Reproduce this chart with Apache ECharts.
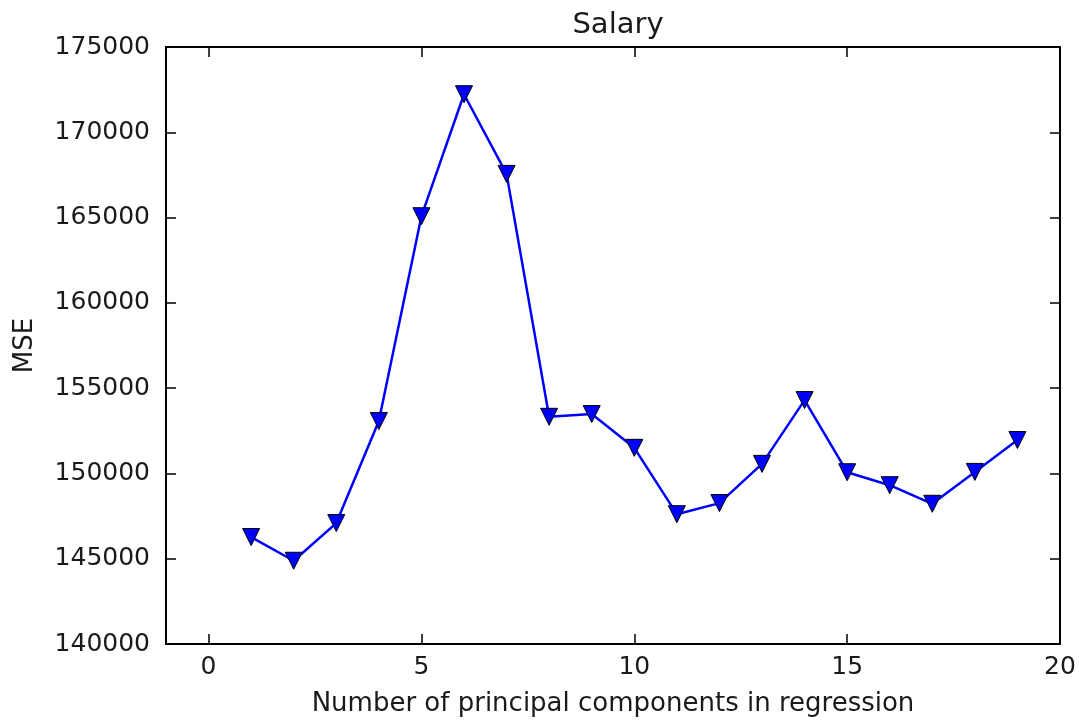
<!DOCTYPE html>
<html>
<head>
<meta charset="utf-8">
<script src="https://cdn.jsdelivr.net/npm/echarts@6/dist/echarts.min.js"></script>
<style>
html,body{margin:0;padding:0;background:#fff;}
#chart{width:1079px;height:723px;}
</style>
</head>
<body>
<div id="chart"></div>
<script>
var components = [1,2,3,4,5,6,7,8,9,10,11,12,13,14,15,16,17,18,19];
var mseValues = [146270,144880,147090,153070,165080,172230,167560,153320,153480,151500,147610,148260,150560,154300,150070,149310,148220,150090,151960];
var xTicks = [0,5,10,15,20];
var yMin = 140000, yMax = 175000, yStep = 5000;
var xMin = -1, xMax = 20;
var titleText = 'Salary';
var xName = 'Number of principal components in regression';
var yName = 'MSE';

var FONT = '"DejaVu Sans", sans-serif';
var TXT = '#1a1a1a';

var seriesData = components.map(function(c, i){ return [c, mseValues[i]]; });

var chart = echarts.init(document.getElementById('chart'), null, {renderer:'canvas'});
var axisLineStyle = {show:true, onZero:false, lineStyle:{color:'#000', width:2}};
var tickStyle = {show:true, inside:true, length:10, lineStyle:{color:'#000', width:1.5}};

chart.setOption({
  animation:false,
  backgroundColor:'#fff',
  title:{
    text:titleText, left:613, top:6, textAlign:'center',
    textStyle:{fontFamily:FONT, fontSize:29, fontWeight:'normal', color:TXT}
  },
  grid:{left:166, right:19, top:47, bottom:79, containLabel:false, outerBoundsMode:'none'},
  xAxis:[{
    type:'value', min:xMin, max:xMax, position:'bottom',
    name:xName, nameLocation:'middle', nameGap:47,
    nameTextStyle:{fontFamily:FONT, fontSize:26, color:TXT},
    axisLine:axisLineStyle,
    axisTick:Object.assign({customValues:xTicks}, tickStyle),
    axisLabel:{customValues:xTicks, fontFamily:FONT, fontSize:25, color:TXT, margin:11},
    splitLine:{show:false}
  },{
    type:'value', min:xMin, max:xMax, position:'top',
    axisLine:axisLineStyle,
    axisTick:Object.assign({customValues:xTicks}, tickStyle),
    axisLabel:{show:false, customValues:xTicks},
    splitLine:{show:false}
  }],
  yAxis:[{
    type:'value', min:yMin, max:yMax, interval:yStep, position:'left',
    name:yName, nameLocation:'middle', nameGap:128, nameRotate:90,
    nameTextStyle:{fontFamily:FONT, fontSize:26, color:TXT},
    axisLine:axisLineStyle,
    axisTick:tickStyle,
    axisLabel:{fontFamily:FONT, fontSize:25, color:TXT, margin:16, formatter:function(v){return String(v);}},
    splitLine:{show:false}
  },{
    type:'value', min:yMin, max:yMax, interval:yStep, position:'right',
    axisLine:axisLineStyle,
    axisTick:tickStyle,
    axisLabel:{show:false},
    splitLine:{show:false}
  }],
  series:[{
    type:'line',
    data:seriesData,
    xAxisIndex:0, yAxisIndex:0,
    symbol:'triangle', symbolRotate:180, symbolSize:17, showAllSymbol:true,
    lineStyle:{color:'#0000ff', width:2.5},
    itemStyle:{color:'#0000ff', borderColor:'#000', borderWidth:1},
    z:3
  }]
});
</script>
</body>
</html>
